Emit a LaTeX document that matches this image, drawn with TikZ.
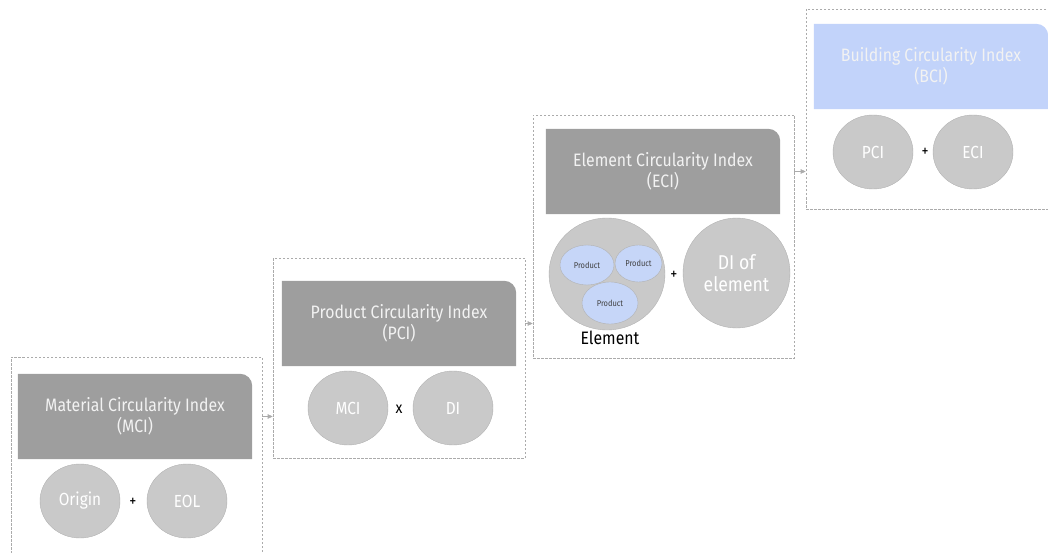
\documentclass[tikz,border=0pt]{standalone}
\usepackage{fontspec}
\setmainfont[FakeStretch=0.88]{Fira Sans}
\usetikzlibrary{backgrounds,arrows.meta,shapes.geometric}

\definecolor{hdrgray}{HTML}{9E9E9E}
\definecolor{hdrblue}{HTML}{C2D3FA}
\definecolor{discgray}{HTML}{C9C9C9}
\definecolor{discline}{HTML}{B2B2B2}
\definecolor{prodblue}{HTML}{C6D6F8}
\definecolor{framegray}{HTML}{ABABAB}

\tikzset{
  frame/.style n args={2}{draw=framegray, dash pattern=on 2.5pt off 1.5pt,
    line width=0.6pt, minimum width=#1, minimum height=#2, inner sep=0pt},
  header/.style={minimum width=234, minimum height=85, inner sep=0pt,
    align=center, text=white!95!black, font=\fontsize{18}{21}\selectfont},
  disc/.style={ellipse, draw=discline, fill=discgray, inner sep=0pt,
    minimum width=80, minimum height=74, text=white, align=center,
    font=\fontsize{17.5}{20}\selectfont},
  prod/.style={ellipse, draw=discline, fill=prodblue, inner sep=0pt,
    text=black!75, font=\fontsize{8.5}{9}\selectfont},
  op/.style={text=black, font=\fontsize{16}{16}\selectfont},
  flow/.style={draw=framegray, line width=0.6pt,
    -{Triangle[length=5pt,width=4.5pt]}}
}

\begin{document}
\begin{tikzpicture}[x=1pt,y=1pt,yscale=-1]
  \useasboundingbox (0,0) rectangle (1048,553);
  % dashed frames, one per level
  \node[frame={251}{200}] (f1) at (136.5,457) {};
  \node[frame={252}{200}] (f2) at (399,358) {};
  \node[frame={261}{243}] (f3) at (663.5,236.5) {};
  \node[frame={244}{200}] (f4) at (928,109) {};
  % headers
  \node[header] (h1) at (135,416.5) {Material Circularity Index\\(MCI)};
  \node[header] (h2) at (399,323.5) {Product Circularity Index\\(PCI)};
  \node[header] (h3) at (663,171.5) {Element Circularity Index\\(ECI)};
  \node[header] (h4) at (931,66.5) {Building Circularity Index\\(BCI)};
  \begin{scope}[on background layer]
    % header fill, round top right corner only
    \foreach \h/\c in {h1/hdrgray,h2/hdrgray,h3/hdrgray,h4/hdrblue}
      \fill[\c] (\h.south west) -- (\h.north west)
        -- ([xshift=-12pt]\h.north east) arc[start angle=270,end angle=360,radius=12]
        -- (\h.south east) -- cycle;
  \end{scope}
  % level arrows
  \foreach \a/\b/\h in {f1/f2/h1,f2/f3/h2,f3/f4/h3}
    \draw[flow] (\a.east |- \h) -- (\b.west |- \h);
  % MCI
  \node[disc] (origin) at (80,501) {Origin};
  \node[op] (plusm) at (133,502) {+};
  \node[disc] (eol) at (187,501) {EOL};
  % PCI
  \node[disc] (mci) at (348,408) {MCI};
  \node[op] (times) at (399,409) {x};
  \node[disc] (di) at (453,408) {DI};
  % ECI
  \node[disc, minimum width=116, minimum height=112] (element) at (607,274) {};
  \node[prod, minimum width=54, minimum height=40] (prodA) at (587,265) {Product};
  \node[prod, minimum width=47, minimum height=37] (prodB) at (638.5,263.5) {Product};
  \node[prod, minimum width=56, minimum height=42] (prodC) at (610,303) {Product};
  \node[op, font=\fontsize{18}{18}\selectfont] (elabel) at (610,338) {Element};
  \node[op] (pluse) at (674,275) {+};
  \node[disc, minimum width=107, minimum height=110,
    font=\fontsize{20}{22}\selectfont] (dielem) at (736.5,273) {DI of\\element};
  % BCI
  \node[disc] (pci) at (873,152) {PCI};
  \node[op] (plusb) at (925,152) {+};
  \node[disc] (eci) at (973,152) {ECI};
\end{tikzpicture}
\end{document}
